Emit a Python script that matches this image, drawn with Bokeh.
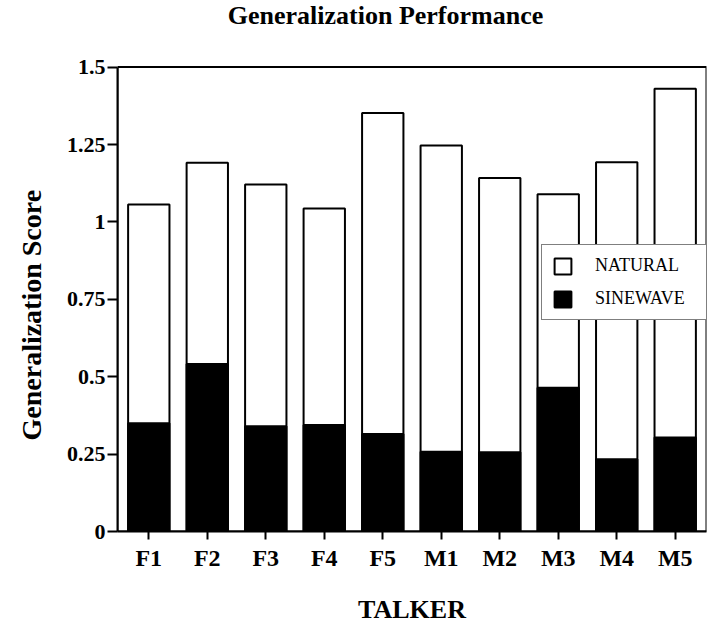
from bokeh.plotting import figure
from bokeh.models import (ColumnDataSource, Range1d, FactorRange, FixedTicker, Legend,
                          LegendItem, Label, Title, BoxAnnotation)
from bokeh.embed import file_html
from bokeh.resources import INLINE

talkers = ["F1", "F2", "F3", "F4", "F5", "M1", "M2", "M3", "M4", "M5"]
natural = [1.056, 1.191, 1.121, 1.043, 1.352, 1.247, 1.142, 1.089, 1.193, 1.430]
sinewave = [0.350, 0.541, 0.340, 0.344, 0.315, 0.258, 0.256, 0.464, 0.233, 0.304]
y_ticks = [0, 0.25, 0.5, 0.75, 1, 1.25, 1.5]
y_tick_labels = ["0", "0.25", "0.5", "0.75", "1", "1.25", "1.5"]
y_max = 1.5

FONT = "Liberation Serif"

# layout (pixels)
W, H = 716, 626
BORDER_LEFT, BORDER_RIGHT, BORDER_BOTTOM = 116, 10, 92
FRAME_H = H - BORDER_BOTTOM          # frame spans the full top of the canvas
PLOT_TOP = 67                        # pixel row where y_max sits
y_top = y_max * FRAME_H / (FRAME_H - PLOT_TOP)

src = ColumnDataSource(dict(t=talkers, nat=natural, sine=sinewave))

p = figure(width=W, height=H, x_range=FactorRange(*talkers, range_padding=0.007),
           y_range=Range1d(0, y_top), output_backend="svg", toolbar_location=None,
           min_border_left=BORDER_LEFT, min_border_right=BORDER_RIGHT,
           min_border_top=0, min_border_bottom=BORDER_BOTTOM)

r_nat = p.vbar(x="t", top="nat", width=0.707, source=src, fill_color="white",
               line_color="black", line_width=2)
r_sine = p.vbar(x="t", top="sine", width=0.707, source=src, fill_color="black",
                line_color="black", line_width=2)

p.xgrid.visible = False
p.ygrid.visible = False
p.outline_line_color = None
p.add_layout(BoxAnnotation(bottom=0, top=y_max, fill_color=None, fill_alpha=0,
                           line_color="black", line_width=2, line_alpha=1))

p.yaxis.ticker = FixedTicker(ticks=y_ticks)
p.yaxis.major_label_overrides = {t: l for t, l in zip(y_ticks, y_tick_labels)}
p.yaxis.bounds = (0, y_max)
p.yaxis.minor_tick_line_color = None
for ax in (p.xaxis[0], p.yaxis[0]):
    ax.axis_line_color = "black"
    ax.axis_line_width = 2
    ax.major_tick_line_color = "black"
    ax.major_tick_line_width = 2
    ax.major_tick_in = 0
    ax.major_label_text_font = FONT
    ax.major_label_text_font_style = "bold"
    ax.major_label_text_color = "black"
p.yaxis.major_tick_out = 10
p.yaxis.major_label_standoff = 2
p.yaxis.major_label_text_font_size = "22px"
p.xaxis.major_tick_out = 8
p.xaxis.major_label_standoff = 5
p.xaxis.major_label_text_font_size = "24px"

p.xaxis.axis_label = "TALKER"
p.xaxis.axis_label_text_font = FONT
p.xaxis.axis_label_text_font_size = "26px"
p.xaxis.axis_label_text_font_style = "bold"
p.xaxis.axis_label_text_color = "black"
p.xaxis.axis_label_standoff = 21

ylab = Title(text="Generalization Score", align="left", offset=91,
             vertical_align="top", standoff=30, text_font=FONT,
             text_font_size="28px", text_font_style="bold", text_color="black")
p.add_layout(ylab, "left")

p.add_layout(Label(x=268, y=FRAME_H - 18, x_units="screen", y_units="screen",
                   text="Generalization Performance", text_font=FONT,
                   text_font_size="26px", text_font_style="bold", text_color="black",
                   text_align="center", text_baseline="alphabetic"))

legend = Legend(items=[LegendItem(label="NATURAL", renderers=[r_nat]),
                       LegendItem(label="SINEWAVE", renderers=[r_sine])],
                location=(424, 211))
legend.label_text_font = FONT
legend.label_text_font_size = "18px"
legend.label_text_color = "black"
legend.glyph_width = 21
legend.glyph_height = 20
legend.label_height = 20
legend.spacing = 12
legend.padding = 10
legend.margin = 0
legend.label_standoff = 22
legend.label_width = 112
legend.border_line_color = "black"
legend.border_line_width = 1.5
legend.background_fill_color = "white"
legend.background_fill_alpha = 1
p.add_layout(legend, "center")

open("out.html", "w").write(file_html(p, INLINE))
